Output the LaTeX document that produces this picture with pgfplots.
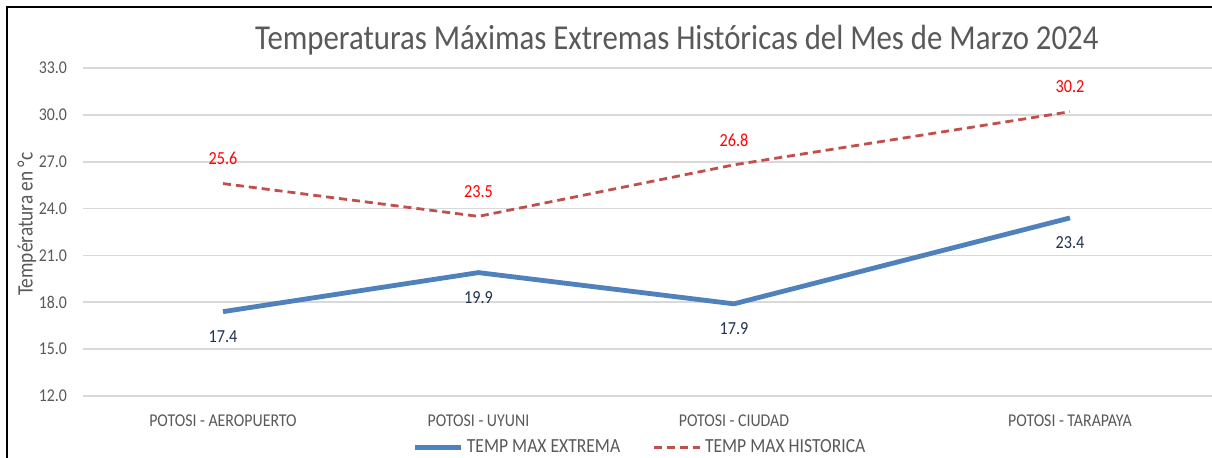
\documentclass[border=0pt]{standalone}
\usepackage{fontspec}
\setmainfont{Carlito}[FakeStretch=0.88]
\usepackage{pgfplots}
\pgfplotsset{compat=1.18}

\definecolor{txtgray}{HTML}{595959}
\definecolor{gridgray}{HTML}{D9D9D9}
\definecolor{serieblue}{HTML}{4F81BD}
\definecolor{seriered}{HTML}{C0504D}
\definecolor{labblue}{HTML}{1F3350}

\pgfplotstableread{
x     extrema historica
0     17.4    25.6
1     19.9    23.5
2     17.9    26.8
3.315 23.4    30.2
}\datos

\begin{document}
\begin{tikzpicture}
\path[use as bounding box] (-41.5pt,-31pt) rectangle (564.5pt,198pt);
\fill[white] (-41.5pt,-31pt) rectangle (564.5pt,198pt);
\draw[black, line width=1.2pt] (-38pt,-31pt) -- (-38pt,194.5pt) -- (564.5pt,194.5pt);
\begin{axis}[
  scale only axis,
  width=564.5pt, height=164pt,
  at={(0,0)}, anchor=south west,
  xmin=-0.548, xmax=3.871,
  ymin=12, ymax=33,
  ytick={12,15,...,33},
  xtick={0,1,2,3.315},
  xticklabels={POTOSI - AEROPUERTO, POTOSI - UYUNI, POTOSI - CIUDAD, POTOSI - TARAPAYA},
  axis line style={draw=none},
  major tick length=0pt,
  ymajorgrids,
  grid style={gridgray, line width=0.9pt},
  /pgf/number format/assume math mode=true,
  /pgf/number format/.cd, fixed, fixed zerofill, precision=1, /tikz/.cd,
  yticklabel style={font=\fontsize{9}{10}\selectfont, text=txtgray, xshift=-4.5pt},
  xticklabel style={font=\fontsize{9}{11}\selectfont, text=txtgray, yshift=-6pt},
  ylabel={Températura en °c},
  ylabel style={at={(axis description cs:-0.0496,0.524)}, anchor=center,
    font=\fontsize{11}{13}\selectfont, text=txtgray},
  title={Temperaturas Máximas Extremas Históricas del Mes de Marzo 2024},
  title style={at={(axis description cs:0.526,1.049)}, anchor=center,
    font=\fontsize{17.5}{20}\selectfont, text=txtgray},
  legend columns=2,
  legend style={draw=none, fill=none, at={(axis description cs:0.494,-0.158)}, anchor=center,
    font=\fontsize{10}{12}\selectfont, text=txtgray,
    /tikz/every even column/.append style={column sep=14pt}},
  legend image code/.code={\draw[#1] (0pt,0pt) -- (23pt,0pt);},
  clip=false,
]
\addplot[serieblue, line width=2.4pt, line join=round,
  nodes near coords, point meta=explicit symbolic,
  every node near coord/.append style={font=\fontsize{9.2}{11}\selectfont, text=labblue,
    anchor=center, yshift=-12.5pt}]
  table[x=x, y=extrema, meta=extrema] {\datos};
\addlegendentry{TEMP MAX EXTREMA}
\addplot[seriered, line width=1.4pt, dash pattern=on 4pt off 2.5pt,
  nodes near coords, point meta=explicit symbolic,
  every node near coord/.append style={font=\fontsize{9.2}{11}\selectfont, text=red,
    anchor=center, yshift=12.5pt}]
  table[x=x, y=historica, meta=historica] {\datos};
\addlegendentry{TEMP MAX HISTORICA}
\end{axis}
\end{tikzpicture}
\end{document}
